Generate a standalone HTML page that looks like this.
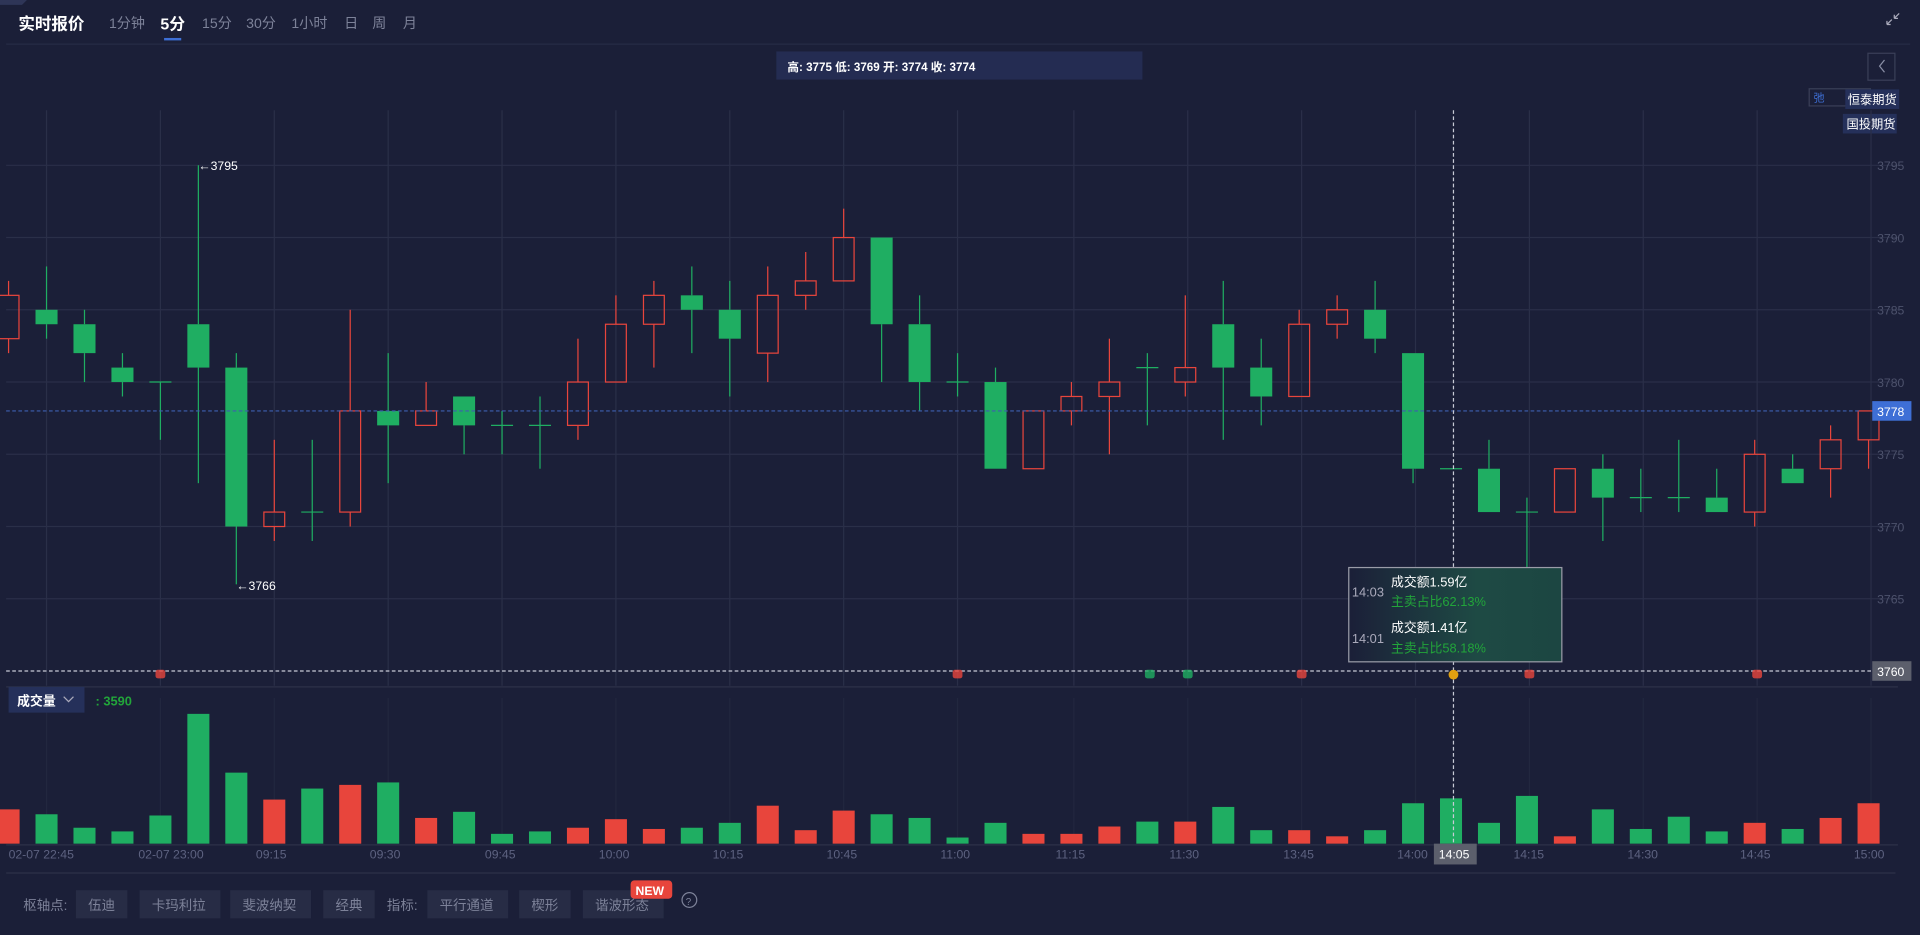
<!DOCTYPE html>
<html><head><meta charset="utf-8">
<style>
html,body{margin:0;padding:0;background:#1b1f38;overflow:hidden;}
svg{display:block;font-family:"Liberation Sans","Noto Sans CJK SC",sans-serif;}
</style></head>
<body>
<svg id="s" width="1920" height="935" viewBox="0 0 1568 763.6" preserveAspectRatio="none" xmlns="http://www.w3.org/2000/svg">
<rect width="1568" height="764" fill="#1b1f38"/>
<path d="M0 0 L22 0 L18 4 L0 4Z" fill="#2e3557"/>
<text x="15" y="24" fill="#fff" font-size="13.5" font-weight="bold">实时报价</text>
<g fill="#7d8299" font-size="11.5">
<text x="89" y="23">1分钟</text><text x="165" y="23">15分</text><text x="201" y="23">30分</text><text x="238" y="23">1小时</text><text x="281" y="23">日</text><text x="304" y="23">周</text><text x="329" y="23">月</text>
</g>
<text x="131" y="24" fill="#fff" font-size="13" font-weight="bold">5分</text>
<rect x="134" y="31" width="14" height="2" fill="#3e6fd6"/>
<line x1="5" y1="36" x2="1560" y2="36" stroke="#262b45"/>
<path d="M1541 20 l4 -4 M1541 20 h3 M1541 20 v-3 M1551 11 l-4 4 M1547 15 h3 M1547 15 v-3" stroke="#aab" stroke-width="1"/>
<rect x="634" y="42" width="299" height="23" fill="#242c52"/>
<text x="643" y="58" fill="#fff" font-size="9.5" font-weight="bold">高: 3775 低: 3769 开: 3774 收: 3774</text>
<rect x="1525.5" y="43.5" width="22" height="22" fill="none" stroke="#3a3f58"/>
<path d="M1539 49 l-4 5 l4 5" stroke="#8a8fa6" fill="none"/>
<rect x="1477.5" y="72.5" width="50" height="14" fill="none" stroke="#3a3f58"/>
<text x="1481" y="83" fill="#3e6fd6" font-size="9">弛</text>
<rect x="1507" y="73" width="44" height="16" fill="#25305a"/>
<text x="1509" y="85" fill="#fff" font-size="10">恒泰期货</text>
<rect x="1505" y="93" width="44" height="16" fill="#25305a"/>
<text x="1508" y="105" fill="#fff" font-size="10">国投期货</text>
<g id="grid"></g>
<g id="candles"></g>
<g id="vol"></g>
<g id="xl" fill="#5d6280" font-size="10"></g>
<line x1="5" y1="713" x2="1548" y2="713" stroke="#2c3148"/>
<rect x="7" y="561" width="62" height="21" fill="#25305a"/>
<text x="14" y="576" fill="#fff" font-size="10.5" font-weight="bold">成交量</text>
<path d="M52 569 l4 4 l4 -4" stroke="#aab" fill="none"/>
<text x="78" y="576" fill="#22a53a" font-size="10.5" font-weight="bold">: 3590</text>
<g font-size="11" fill="#7d8299">
<text x="19" y="743">枢轴点:</text>
<rect x="62" y="727" width="42" height="23" fill="#272c45"/><text x="72" y="743">伍迪</text>
<rect x="114" y="727" width="66" height="23" fill="#272c45"/><text x="124" y="743">卡玛利拉</text>
<rect x="188" y="727" width="66" height="23" fill="#272c45"/><text x="198" y="743">斐波纳契</text>
<rect x="264" y="727" width="42" height="23" fill="#272c45"/><text x="274" y="743">经典</text>
<text x="316" y="743">指标:</text>
<rect x="349" y="727" width="66" height="23" fill="#272c45"/><text x="359" y="743">平行通道</text>
<rect x="424" y="727" width="42" height="23" fill="#272c45"/><text x="434" y="743">楔形</text>
<rect x="476" y="727" width="66" height="23" fill="#272c45"/><text x="486" y="743">谐波形态</text>
</g>
<rect x="515" y="719" width="34" height="15" rx="3" fill="#e8453c"/>
<text x="519" y="731" fill="#fff" font-size="10" font-weight="bold">NEW</text>
<circle cx="563" cy="735" r="6" fill="none" stroke="#7d8299"/>
<text x="560" y="739" fill="#7d8299" font-size="8">?</text>
<g id="ov"></g>
</svg>
<script>
var NS="http://www.w3.org/2000/svg";
function el(p,t,a,txt){var e=document.createElementNS(NS,t);for(var k in a)e.setAttribute(k,a[k]);if(txt!=null)e.textContent=txt;document.getElementById(p).appendChild(e);return e;}
function Y(p){return 548-(p-3760)*11.8;}
var G="#1fae62",R="#e8453c";
// grid
[38,131,224,317,410,503,596,689,782,877,970,1063,1156,1249,1342,1435,1528].forEach(function(x){
 el("grid","line",{x1:x,y1:90,x2:x,y2:560,stroke:"#2a2f48"});
 el("grid","line",{x1:x,y1:570,x2:x,y2:689,stroke:"#22273f"});
});
[3765,3770,3775,3780,3785,3790,3795].forEach(function(p){
 el("grid","line",{x1:5,y1:Y(p),x2:1550,y2:Y(p),stroke:"#2a2f48"});
 el("grid","text",{x:1533,y:Y(p)+4,fill:"#4d526c","font-size":"10"},p);
});
el("grid","line",{x1:5,y1:561,x2:1550,y2:561,stroke:"#2c3148"});
el("grid","line",{x1:5,y1:690,x2:1550,y2:690,stroke:"#2c3148"});
// candles O C H L
var C=[[3783,3786,3787,3782],[3785,3784,3788,3783],[3784,3782,3785,3780],[3781,3780,3782,3779],[3780,3780,3780,3776],
[3784,3781,3795,3773],[3781,3770,3782,3766],[3770,3771,3776,3769],[3771,3771,3776,3769],[3771,3778,3785,3770],
[3778,3777,3782,3773],[3777,3778,3780,3777],[3779,3777,3779,3775],[3777,3777,3778,3775],[3777,3777,3779,3774],
[3777,3780,3783,3776],[3780,3784,3786,3780],[3784,3786,3787,3781],[3786,3785,3788,3782],[3785,3783,3787,3779],
[3782,3786,3788,3780],[3786,3787,3789,3785],[3787,3790,3792,3787],[3790,3784,3790,3780],[3784,3780,3786,3778],
[3780,3780,3782,3779],[3780,3774,3781,3774],[3774,3778,3778,3774],[3778,3779,3780,3777],[3779,3780,3783,3775],
[3781,3781,3782,3777],[3780,3781,3786,3779],[3784,3781,3787,3776],[3781,3779,3783,3777],[3779,3784,3785,3779],
[3784,3785,3786,3783],[3785,3783,3787,3782],[3782,3774,3782,3773],[3774,3774,3774,3774],[3774,3771,3776,3771],
[3771,3771,3772,3767],[3771,3774,3774,3771],[3774,3772,3775,3769],[3772,3772,3774,3771],[3772,3772,3776,3771],
[3772,3771,3774,3771],[3771,3775,3776,3770],[3774,3773,3775,3773],[3774,3776,3777,3772],[3776,3778,3778,3774]];
var V=[661,665,676,679,666,583,631,653,644,641,639,668,663,681,679,676,669,677,676,672,658,678,662,665,668,684,672,681,681,675,671,671,659,678,678,683,678,656,652,672,650,683,661,677,667,679,672,677,668,656];
C.forEach(function(c,i){
 var x=7+31*i,up=c[1]>c[0]||(c[1]==c[0]&&false),col=c[1]>c[0]?R:G;
 var top=Y(Math.max(c[0],c[1])),bot=Y(Math.min(c[0],c[1]));
 el("candles","line",{x1:x,y1:Y(c[2]),x2:x,y2:top,stroke:col});
 el("candles","line",{x1:x,y1:bot,x2:x,y2:Y(c[3]),stroke:col});
 if(c[1]==c[0]) el("candles","line",{x1:x-9,y1:top,x2:x+9,y2:top,stroke:col});
 else if(col==R) el("candles","rect",{x:x-8.5,y:top,width:17,height:bot-top,fill:"none",stroke:R});
 else el("candles","rect",{x:x-9,y:top,width:18,height:bot-top,fill:G});
 var vc=(i==0||[7,9,11,15,16,17,20,21,22,27,28,29,31,34,35,41,46,48,49].indexOf(i)>=0)?R:G;
 el("vol","rect",{x:x-9,y:V[i],width:18,height:689-V[i],fill:vc});
});
el("candles","text",{x:162,y:139,fill:"#fff","font-size":"10"},"←3795");
el("candles","text",{x:193,y:482,fill:"#fff","font-size":"10"},"←3766");
// x labels
[["02-07 22:45",7],["02-07 23:00",113],["09:15",209],["09:30",302],["09:45",396],["10:00",489],["10:15",582],["10:45",675],["11:00",768],["11:15",862],["11:30",955],["13:45",1048],["14:00",1141],["14:15",1236],["14:30",1329],["14:45",1421],["15:00",1514]].forEach(function(l){el("xl","text",{x:l[1],y:701},l[0]);});
// current price line
el("ov","line",{x1:5,y1:Y(3778),x2:1520,y2:Y(3778),stroke:"#3e5fb0","stroke-dasharray":"3 2"});
el("ov","rect",{x:1529,y:Y(3778)-8,width:32,height:16,fill:"#3e6fd6"});
el("ov","text",{x:1533,y:Y(3778)+4,fill:"#fff","font-size":"10"},"3778");
// crosshair
el("ov","line",{x1:5,y1:548,x2:1530,y2:548,stroke:"#c8cad6","stroke-dasharray":"3 2"});
el("ov","line",{x1:1187,y1:90,x2:1187,y2:690,stroke:"#c8cad6","stroke-dasharray":"3 2"});
el("ov","rect",{x:1529,y:540,width:32,height:16,fill:"#5c5f6c"});
el("ov","text",{x:1533,y:552,fill:"#fff","font-size":"10"},"3760");
el("ov","rect",{x:1171,y:689,width:35,height:17,fill:"#5c5f6c"});
el("ov","text",{x:1175,y:701,fill:"#fff","font-size":"10"},"14:05");
// markers
[[131,R],[782,R],[939,G],[970,G],[1063,R],[1249,R],[1435,R]].forEach(function(m){el("ov","rect",{x:m[0]-4,y:547,width:8,height:7,rx:2,fill:m[1],opacity:.8});});
el("ov","circle",{cx:1187,cy:551,r:4,fill:"#e0a010"});
// tooltip
var d=el("ov","defs",{});
d.innerHTML='<linearGradient id="tg" x1="0" x2="1"><stop offset="0" stop-color="#1b1f38"/><stop offset="0.6" stop-color="#1e4a44"/><stop offset="1" stop-color="#1c4642"/></linearGradient>';
el("ov","rect",{x:1101.5,y:463.5,width:174,height:77,fill:"url(#tg)",stroke:"#9a9ca8"});
el("ov","text",{x:1104,y:487,fill:"#aab","font-size":"10.5"},"14:03");
el("ov","text",{x:1136,y:479,fill:"#fff","font-size":"10.5"},"成交额1.59亿");
el("ov","text",{x:1136,y:495,fill:"#22a53a","font-size":"10.5"},"主卖占比62.13%");
el("ov","text",{x:1104,y:525,fill:"#aab","font-size":"10.5"},"14:01");
el("ov","text",{x:1136,y:516,fill:"#fff","font-size":"10.5"},"成交额1.41亿");
el("ov","text",{x:1136,y:533,fill:"#22a53a","font-size":"10.5"},"主卖占比58.18%");
</script>
</body></html>
